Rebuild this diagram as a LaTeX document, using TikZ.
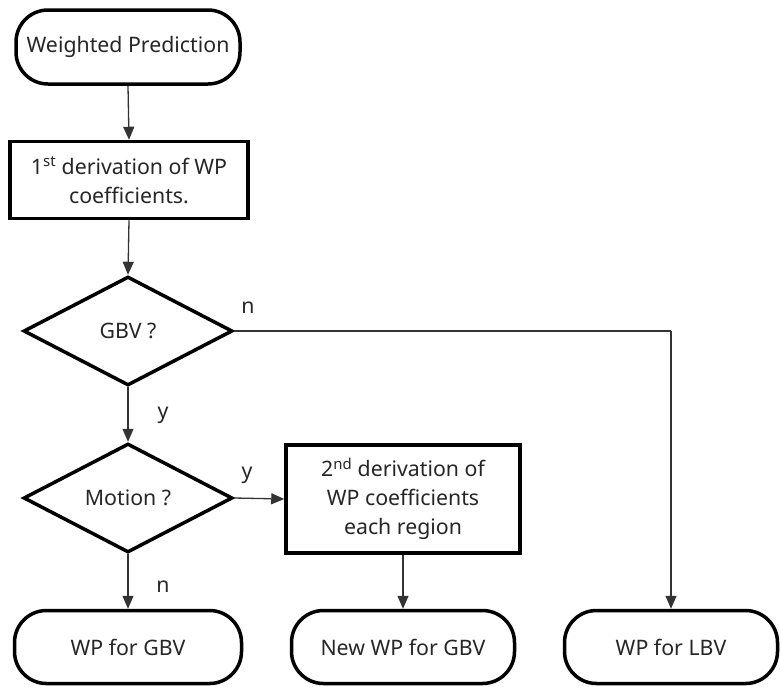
\documentclass[tikz,border=0pt]{standalone}
\usepackage{fontspec}
\setmainfont{Noto Sans}
\usetikzlibrary{shapes.geometric,arrows.meta}
\begin{document}
\begin{tikzpicture}[x=1pt,y=-1pt,
  every node/.style={font=\fontsize{21.3}{29}\selectfont, text=black!85},
  termbox/.style={draw=black, line width=3.5pt, rounded corners=32pt, fill=white, minimum width=224pt, minimum height=74pt, inner sep=0pt, align=center},
  procbox/.style={draw=black, line width=3.5pt, fill=white, inner sep=0pt, align=center},
  decbox/.style={draw=black, line width=3.5pt, diamond, fill=white, inner sep=0pt, minimum width=209pt, minimum height=109pt},
  conn/.style={draw=black!80, line width=1.3pt, -{Triangle[length=13pt,width=11pt]}},
  plainconn/.style={draw=black!80, line width=1.3pt},
  lbl/.style={inner sep=0pt}
]
\useasboundingbox (0,0) rectangle (781,686);
\node[termbox] (start) at (128,47) {Weighted Prediction};
\node[procbox, minimum width=238pt, minimum height=77pt] (d1) at (129,180) {1\textsuperscript{st} derivation of WP\\coefficients.};
\node[decbox] (gbv) at (128,331) {GBV ?};
\node[decbox] (mot) at (128,498) {Motion ?};
\node[procbox, minimum width=234pt, minimum height=108pt] (d2) at (403,499) {2\textsuperscript{nd} derivation of\\WP coefficients\\each region};
\node[termbox, minimum width=227pt, minimum height=73pt] (wpg) at (128,647) {WP for GBV};
\node[termbox, minimum width=223pt, minimum height=73pt] (nwp) at (403,647) {New WP for GBV};
\node[termbox, minimum width=213pt, minimum height=73pt] (wpl) at (671,647) {WP for LBV};
\coordinate (corner) at (671,331);
\draw[conn] (start.south) -- (d1.north);
\draw[conn] (d1.south) -- (gbv.north);
\draw[conn] (gbv.south) -- (mot.north);
\draw[conn] (mot.east) -- (d2.west);
\draw[conn] (mot.south) -- (wpg.north);
\draw[conn] (d2.south) -- (nwp.north);
\draw[plainconn] (gbv.east) -- (corner);
\draw[conn] (corner) -- (wpl.north);
\node[lbl] (ln1) at (248,308) {n};
\node[lbl] (ly1) at (163,415) {y};
\node[lbl] (ly2) at (247,475) {y};
\node[lbl] (ln2) at (163,587) {n};
\end{tikzpicture}
\end{document}
